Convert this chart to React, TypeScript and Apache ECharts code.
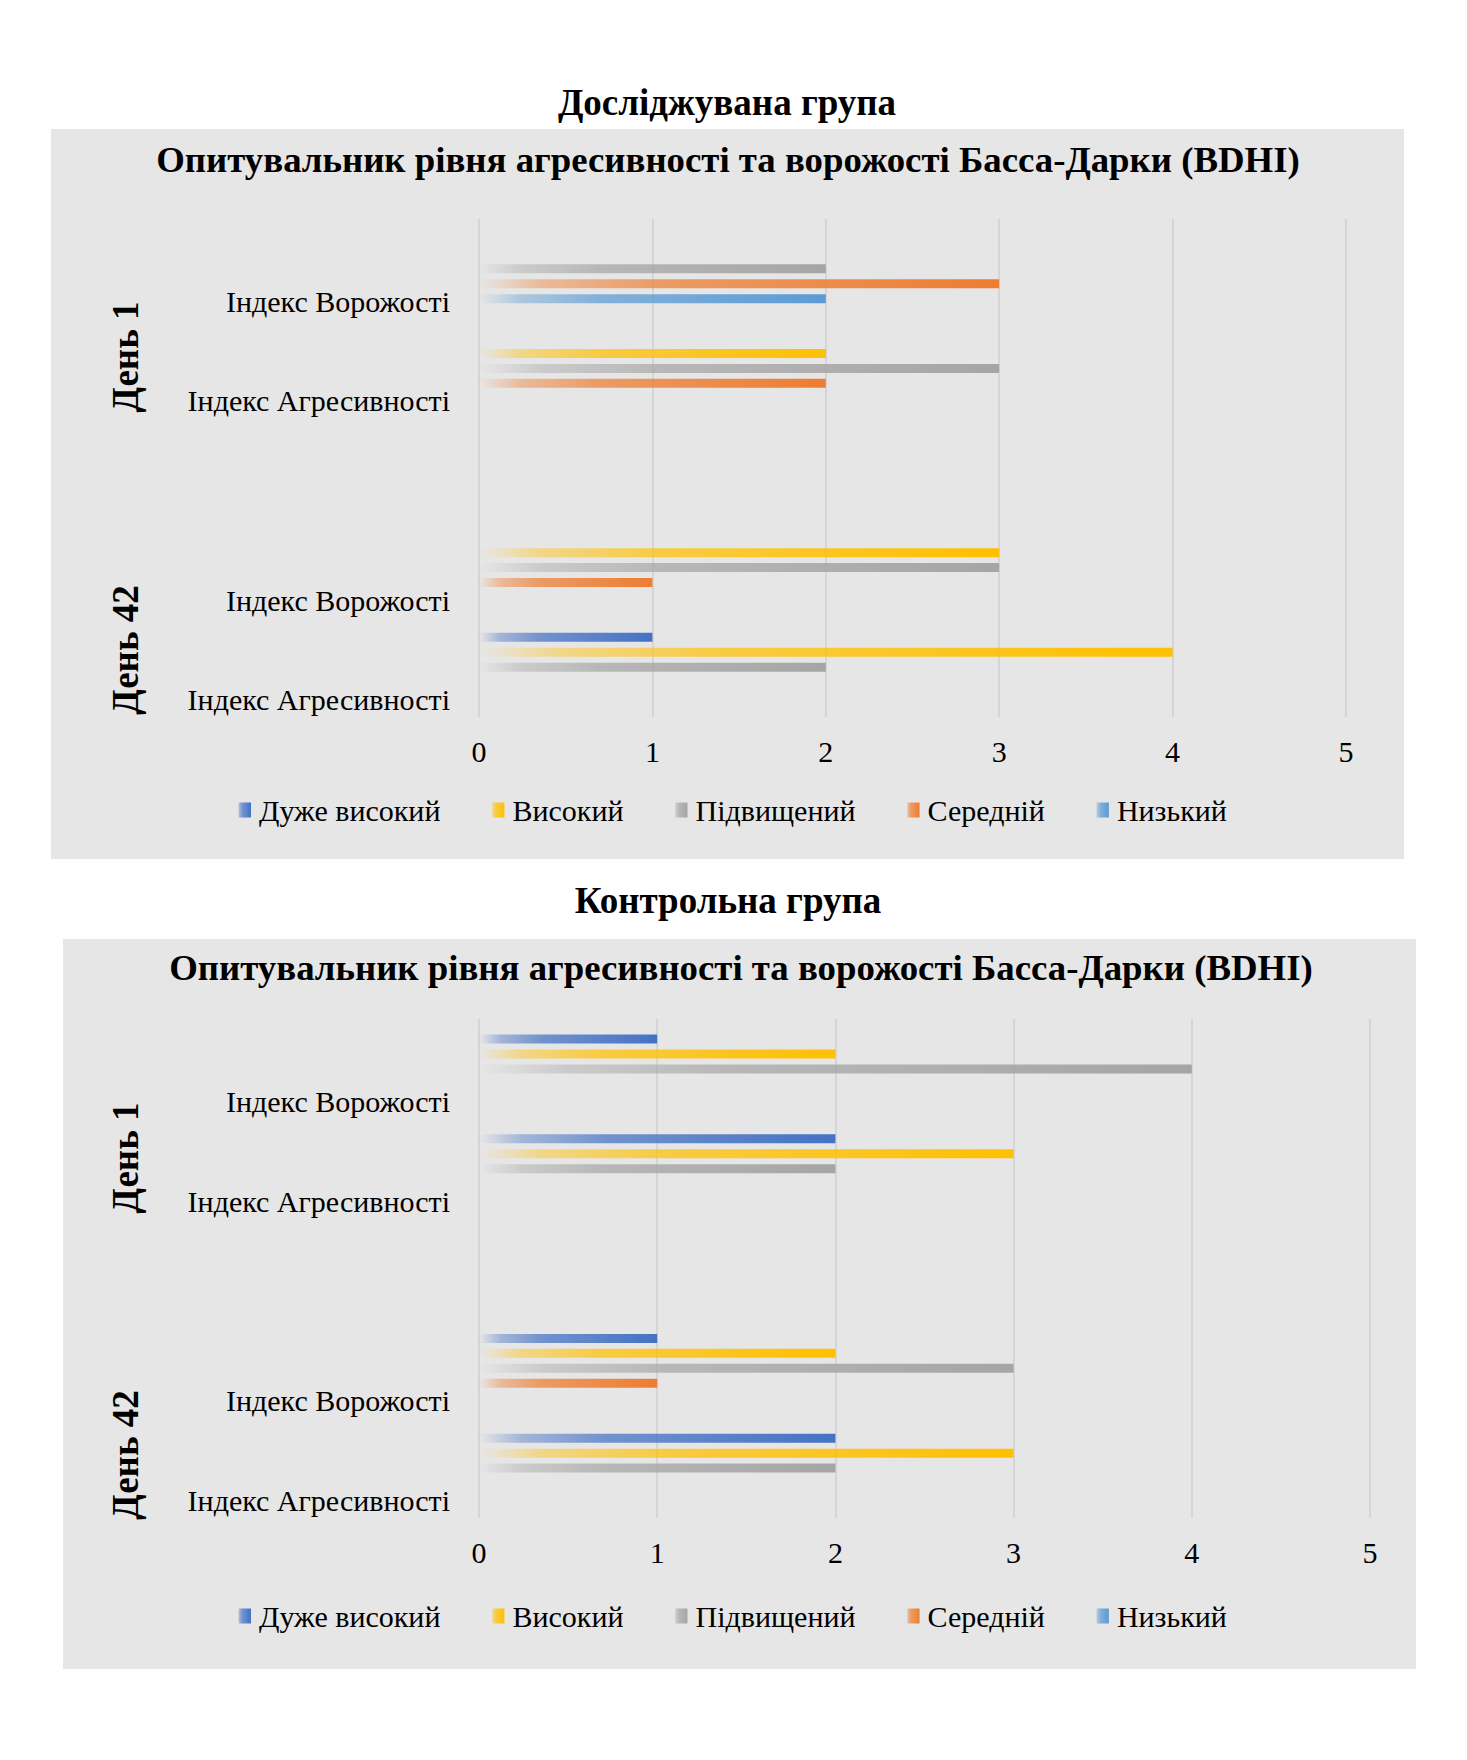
import React, { useEffect, useRef } from "react";
import * as echarts from "echarts";

const categories = ["Індекс Ворожості", "Індекс Агресивності", "", "Індекс Ворожості", "Індекс Агресивності"];
const seriesNames = ["Дуже високий", "Високий", "Підвищений", "Середній", "Низький"];
const seriesColors = ["#4472C4", "#FFC000", "#A5A5A5", "#ED7D31", "#5B9BD5"];
const xTicks = [0, 1, 2, 3, 4, 5];

// Досліджувана група (order: День1 Вор, День1 Агр, gap, День42 Вор, День42 Агр)
const studyVeryHigh = [0, 0, null, 0, 1];
const studyHigh = [0, 2, null, 3, 4];
const studyElevated = [2, 3, null, 3, 2];
const studyMedium = [3, 2, null, 1, 0];
const studyLow = [2, 0, null, 0, 0];

// Контрольна група
const controlVeryHigh = [1, 2, null, 1, 2];
const controlHigh = [2, 3, null, 2, 3];
const controlElevated = [4, 2, null, 3, 2];
const controlMedium = [0, 0, null, 1, 0];
const controlLow = [0, 0, null, 0, 0];

const studyData = [studyVeryHigh, studyHigh, studyElevated, studyMedium, studyLow];
const controlData = [controlVeryHigh, controlHigh, controlElevated, controlMedium, controlLow];

const mainTitle1 = "Досліджувана група";
const mainTitle2 = "Контрольна група";
const chartTitle = "Опитувальник рівня агресивності та ворожості Басса-Дарки (BDHI)";
const groupLabels = ["День 1", "День 42"];

const SERIF = "Liberation Serif, serif";

function rgba(hex: string, a: number) {
  const r = parseInt(hex.slice(1, 3), 16);
  const g = parseInt(hex.slice(3, 5), 16);
  const b = parseInt(hex.slice(5, 7), 16);
  return `rgba(${r},${g},${b},${a})`;
}

function grad(hex: string) {
  return new echarts.graphic.LinearGradient(0, 0, 1, 0, [
    { offset: 0, color: rgba(hex, 0.0) },
    { offset: 0.12, color: rgba(hex, 0.42) },
    { offset: 0.35, color: rgba(hex, 0.72) },
    { offset: 1, color: rgba(hex, 1) },
  ]);
}

export default function App() {
  const ref = useRef<HTMLDivElement>(null);

  useEffect(() => {
    if (!ref.current) return;
    const chart = echarts.init(ref.current, undefined, { renderer: "svg" });

    const grids = [
      { left: 479, top: 219, width: 867, height: 498 },
      { left: 479, top: 1019, width: 891, height: 499 },
    ];

    const xAxes = grids.map((_, i) => ({
      type: "value",
      gridIndex: i,
      min: 0,
      max: 5,
      interval: 1,
      axisLine: { show: false },
      axisTick: { show: false },
      splitLine: { show: true, lineStyle: { color: "#cfcfcf", width: 1.5 } },
      axisLabel: {
        fontSize: 30,
        fontFamily: SERIF,
        color: "#000",
        margin: 19,
        formatter: (v: number) => (xTicks.includes(v) ? String(v) : ""),
      },
    }));

    const yAxes = grids.map((_, i) => ({
      type: "category",
      gridIndex: i,
      inverse: true,
      data: categories,
      axisLine: { show: false },
      axisTick: { show: false },
      splitLine: { show: false },
      axisLabel: {
        margin: 29,
        verticalAlign: "middle",
        formatter: (v: string) => (v ? `{gap| }\n{t|${v}}` : ""),
        rich: {
          gap: { fontSize: 8, lineHeight: 65 },
          t: { fontSize: 30, lineHeight: 34, fontFamily: SERIF, color: "#000" },
        },
      },
    }));

    const series: any[] = [];
    [studyData, controlData].forEach((dataSet, gi) => {
      dataSet.forEach((vals, si) => {
        series.push({
          type: "bar",
          name: seriesNames[si],
          xAxisIndex: gi,
          yAxisIndex: gi,
          data: vals,
          barWidth: 9,
          barGap: "66%",
          itemStyle: { color: grad(seriesColors[si]) },
          emphasis: { disabled: true },
        });
      });
    });

    const legendBase = {
      left: 238,
      padding: 0,
      orient: "horizontal",
      itemWidth: 13,
      itemHeight: 15,
      itemGap: 51,
      icon: "rect",
      data: seriesNames,
      selectedMode: false,
      textStyle: {
        fontSize: 30,
        fontFamily: SERIF,
        color: "#000",
        lineHeight: 30,
        padding: [0, 0, 0, 3],
      },
    };

    const boxes = [
      { x: 51, y: 129, w: 1353, h: 730, title: mainTitle1, tx: 727, ty: 102, ctx: 728, cty: 159, g1y: 357, g2y: 650 },
      { x: 63, y: 939, w: 1353, h: 730, title: mainTitle2, tx: 728, ty: 900, ctx: 741, cty: 967, g1y: 1158, g2y: 1455 },
    ];

    const graphic: any[] = [];
    boxes.forEach((b) => {
      graphic.push({
        type: "rect",
        z: -10,
        shape: { x: b.x, y: b.y, width: b.w, height: b.h },
        style: { fill: "#E7E6E6" },
        silent: true,
      });
      graphic.push({
        type: "text",
        x: b.tx,
        y: b.ty,
        style: {
          text: b.title,
          font: `bold 37px ${SERIF}`,
          fill: "#000",
          textAlign: "center",
          textVerticalAlign: "middle",
        },
      });
      graphic.push({
        type: "text",
        x: b.ctx,
        y: b.cty,
        style: {
          text: chartTitle,
          font: `bold 36.8px ${SERIF}`,
          fill: "#000",
          textAlign: "center",
          textVerticalAlign: "middle",
        },
      });
      [b.g1y, b.g2y].forEach((gy, k) => {
        graphic.push({
          type: "text",
          x: 125,
          y: gy,
          rotation: Math.PI / 2,
          style: {
            text: groupLabels[k],
            font: `bold 37px ${SERIF}`,
            fill: "#000",
            textAlign: "center",
            textVerticalAlign: "middle",
          },
        });
      });
    });

    chart.setOption({
      animation: false,
      backgroundColor: "#ffffff",
      grid: grids,
      xAxis: xAxes,
      yAxis: yAxes,
      legend: [
        { ...legendBase, top: 795 },
        { ...legendBase, top: 1601 },
      ],
      graphic,
      series,
    });

    return () => chart.dispose();
  }, []);

  return (
    <div
      ref={ref}
      style={{ position: "absolute", left: 0, top: 0, width: 1467, height: 1760 }}
    />
  );
}
